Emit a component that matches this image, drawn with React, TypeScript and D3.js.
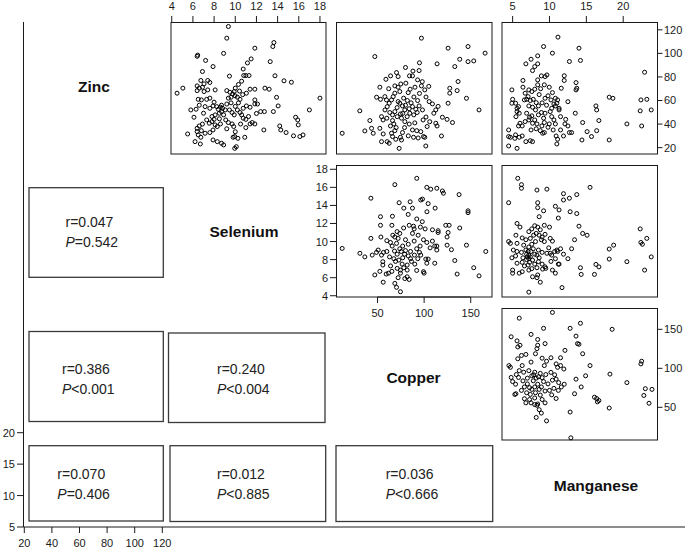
import React from "react";
import * as d3 from "d3";

const W = 685;
const H = 547;

const variables = ["Zinc", "Selenium", "Copper", "Manganese"];
const zincTicks = [20, 40, 60, 80, 100, 120];
const seleniumTicks = [4, 6, 8, 10, 12, 14, 16, 18];
const copperTicks = [50, 100, 150];
const manganeseTicks = [5, 10, 15, 20];
const outerLeftTicks = [5, 10, 15, 20];
const outerBottomTicks = [20, 40, 60, 80, 100, 120];

const correlations = [
  { r: "0.047", p: "=0.542" }, // Zinc-Selenium
  { r: "0.386", p: "<0.001" }, // Zinc-Copper
  { r: "0.240", p: "<0.004" }, // Selenium-Copper
  { r: "0.070", p: "=0.406" }, // Zinc-Manganese
  { r: "0.012", p: "<0.885" }, // Selenium-Manganese
  { r: "0.036", p: "<0.666" }, // Copper-Manganese
];

// [Selenium, Zinc]
const zincSelenium: [number, number][] = [
  [9.35,122.8],[9.2,112.9],[8.9,100],[6.4,97.5],[6.45,98.5],[7.2,94],[7.9,88.8],[6.9,84.6],[6.75,77],[7.4,77],[7.6,75.3],[6.4,72.4],[6.6,70.5],[6.9,71.3],[7.05,74.1],[6.4,68.4],[7.05,67.6],[7.4,69],[8.1,69],[4.5,66.2],[5.05,70.5],[9.2,68.4],[9.5,67],[9.75,65.6],[9.98,64],[9.9,67.6],[9.35,62],[9.6,62.8],[10.2,62.8],[10.45,61],[6.5,61],[6.8,60.5],[7.3,61],[7.6,62],[6.3,52.6],[6.6,56],[7.15,54.8],[7.6,53.4],[7.9,55.4],[8.25,54.8],[8.6,54.3],[8.8,53.4],[9.05,52],[8.7,50.6],[8.5,49.2],[8.9,47.8],[6.1,45.8],[7.0,49.2],[7.8,46.4],[8.1,47.8],[9.45,52],[9.7,49.8],[9.9,47.8],[10.2,52],[10.45,49.8],[10.6,47.8],[10.75,45],[11,44],[11.25,46.4],[11.4,40.1],[11.6,41.3],[11.85,40.1],[9.1,43.5],[9.35,41.3],[9.7,40.1],[9.85,37.9],[7.3,43.5],[7.55,40.7],[7.8,42.1],[8.1,39.3],[8.3,37.9],[8.6,40.1],[6.4,36.4],[6.6,38.4],[6.8,34.4],[7.15,32.2],[7.6,32.8],[7.9,35],[5.5,31.6],[6.4,33.6],[6.5,30.8],[6.75,28.8],[6.2,25.1],[6.7,23.1],[7.9,26.5],[8.3,25.1],[8.7,23.7],[8.9,22.3],[9.95,29.4],[10.25,27.9],[10.1,20.8],[9.95,19.4],[9.8,28.8],[10.9,28.8],[10.75,53.4],[11.05,55.4],[11.4,54.3],[11.85,60.5],[11.85,57.1],[11.05,66.2],[11.4,69.6],[11.85,69.6],[10.3,73.6],[10.6,76.4],[10.8,81.2],[11.15,91.9],[11.5,95.3],[11.85,104.4],[10.75,86.7],[11.0,81.2],[11.3,81.2],[9.45,80.7],[13.3,93],[13.55,105.8],[13.65,109.2],[12.8,70.5],[13.2,69.6],[13.75,81],[14.6,76.7],[15.3,75.5],[13.9,62.7],[14.05,55.4],[12.75,50.6],[13.6,50.6],[12.4,50.6],[15.7,45.8],[15.9,43.5],[15.95,39.3],[17.0,52],[18.0,62],[14.2,38.4],[14.3,35],[14.8,32.8],[15.5,30],[16.1,29.4],[16.4,30.8],[12.7,35],
  [8.4,52.5],[8.7,56],[9.2,57],[9.6,58],[10.0,55],[10.3,58],[8.0,44],[8.5,44.5],[9.2,36],[10.0,33.5],[10.5,40],[11.0,37],[12.1,57],[12.0,49],[6.9,40],[5.8,52],[10.4,68],[10.7,65],[10.0,70.5],[8.0,58.6],
];

// [Copper, Zinc]
const zincCopper: [number, number][] = [
  [12.1,32.2],[31,51.2],[36.4,34.2],[41.8,43],[43.6,36.4],[45.4,32.2],[47.1,97.3],[52.5,36.4],[54.3,46.3],[56,43.5],[52.5,71.3],[49,62.8],[53.2,61],[57.9,63.3],[59.6,60.5],[60.4,54.8],[62.5,57.7],[65,60.5],[66.8,63.3],[68.6,66.2],[64,80.9],[70.4,83.7],[72.1,80.3],[68.6,72.4],[72.1,71.3],[73.9,67.6],[80.4,74.7],[82.9,66.7],[85,69.6],[87.5,80.9],[84.3,80.9],[90.2,71.3],[93,77.5],[94.6,85.4],[98,76],[100.7,69],[97.1,72.4],[72.1,59.1],[73.9,57.7],[76.8,55.4],[79.3,52],[74.6,48.6],[71.1,46.3],[63.2,49.8],[66.1,47.8],[68.6,50.6],[66.1,43],[67.5,40.1],[63.9,38.4],[75.7,45],[79.3,42.1],[81.8,46.3],[84.6,49.2],[87.5,54.8],[91.1,52.6],[94.6,55.4],[98.2,52],[88.9,47.8],[92.5,49.8],[98.9,43.5],[105.4,59.1],[108.9,57.1],[112.5,52],[110.4,49.2],[103.2,37.9],[112.5,40.7],[113.9,38.4],[119.6,45.8],[124.6,44],[130.4,41.3],[65,32.2],[68.6,34.4],[66.1,29.4],[69.6,27.1],[62.5,23.7],[60.4,25.1],[56.1,31.6],[54.3,25.1],[76.8,32.8],[74.6,28.8],[75.7,26.5],[73.2,19.4],[87.5,35],[92.1,34.4],[96.4,33.6],[88.6,28.8],[93.6,28.2],[99.3,29.4],[101.8,21.4],[100.7,28.8],[97.1,112.9],[113.9,91.1],[125.7,104.4],[132.9,88.8],[138.2,95],[147.1,105.8],[147.1,93],[153.2,93.6],[165.4,100.2],[136.4,76.1],[127.5,70.4],[127.5,66.2],[135.4,68.4],[145.4,61.9],[125.7,57.7],[158.9,52],[118.6,29.9],
  [78,62],[82,60],[86,58],[80,56],[84,53],[77,49],[71,54],[89,63],[93,60],[95,66],[102,63],[105,72],[90,41],[84,40],[79,37],[70,37],[60,45],[58,52],[83,30],[102,46],[106,42],[115,55],[95,92],[88,85],[80,88],[75,74],[62,70],[59,78],
];

// [Manganese, Zinc]
const zincManganese: [number, number][] = [
  [4.46,35],[4.46,21.4],[4.7,28.8],[4.46,29.4],[4.9,69],[5.0,61],[4.9,57.7],[5.4,57.7],[5.6,19.4],[5.3,27.9],[5.4,30.8],[5.9,28.8],[5.6,53.4],[5.8,54.8],[5.6,50.6],[5.9,49.2],[5.45,46.3],[6.4,77],[6.4,71.3],[6.7,66.2],[6.9,61],[6.6,60.5],[6.0,40.7],[6.3,38.4],[6.7,42.1],[5.8,38.4],[6.3,29.9],[6.8,91.1],[6.8,25.1],[7.4,25.9],[7.7,25.1],[7.5,95],[7.7,85.4],[8.0,88.8],[8.4,91.1],[8.4,97.9],[9.2,105.8],[7.2,69],[7.6,67.6],[8.0,69.6],[8.4,73.3],[8.4,77.5],[8.9,80.9],[7.1,63.3],[7.4,60],[7.8,61],[8.2,58.2],[7.2,55.4],[7.7,54.3],[8.1,52],[8.5,55.4],[6.9,49.2],[7.3,45.8],[7.6,47],[8.0,43.5],[8.3,40.1],[7.7,40.7],[7.2,43.5],[8.5,47.8],[8.9,49.8],[9.2,45],[9.4,49.2],[9.3,41.3],[8.97,38.4],[8.75,34.4],[9.07,32.2],[9.3,32.8],[9.4,61.9],[9.3,73.3],[9.4,80.3],[9.65,81.7],[9.97,71.3],[10.2,60.5],[10.3,53.4],[10.1,50.6],[10.3,46.3],[9.97,40.1],[9.8,37.3],[10.6,43.5],[10.8,40.1],[10.4,100.2],[11.15,113.8],[10.4,66.7],[10.8,61.9],[11.0,57.7],[11.3,52],[11.1,60.5],[10.8,55.4],[11.5,46.3],[11.3,53.4],[10.9,29.9],[11.0,23.1],[11.1,27.1],[11.5,35],[11.6,70.4],[12.0,77],[12.0,81],[12.1,40.1],[12.5,38.4],[12.2,44],[11.9,29.9],[12.7,32.8],[13.0,32.8],[12.7,93.1],[13.5,49.2],[13.6,75.2],[13.6,69],[13.7,70.4],[14.0,104.4],[14.2,94],[14.5,41.3],[15.1,33.6],[14.4,26.5],[15.7,29.4],[16.4,34.4],[16.4,52],[16.3,55.4],[16.7,43],[18.1,62.8],[18.6,61.9],[18.1,26.5],[20.5,40.1],[22.3,51.2],[22.5,38.4],[22.4,60.5],[22.9,84],[23.2,61],[23.8,52],
  [8.6,65],[9.0,58],[9.6,56],[8.2,36],[7.5,35],[10.5,35],[9.8,64],[8.8,70],[10.6,57],[12.5,59],
];

// [Copper, Selenium]
const seleniumCopper: [number, number][] = [
  [12.1,9.24],[31.1,8.7],[36.4,8.3],[44.3,8.5],[47.1,6.3],[52.5,6.7],[56.1,5.5],[42.9,14.8],[42.9,10.35],[53.2,12.75],[53.2,11.8],[53.6,10.5],[50.7,9.06],[54.3,8.5],[48.9,8.8],[55.7,7.4],[55.7,7.77],[56.4,8.8],[60,8.9],[62.9,8.3],[59.3,6.4],[61.8,6.5],[65.4,6.7],[68.6,16.3],[73.2,14.3],[65.4,11.8],[66.4,10.7],[68.6,10.5],[72.1,10.35],[73.9,10.9],[63.9,9.9],[65.7,9.5],[70.4,9.8],[73.9,9.2],[68.2,8.95],[71.1,8.6],[75.4,8.9],[67.5,8.1],[69.3,7.8],[72.9,7.95],[76.4,7.5],[71.1,7.03],[74.6,6.84],[78.2,7.1],[74.6,6.5],[72.1,6.0],[68.6,5.37],[70.4,4.93],[74.6,4.44],[79.3,5.9],[81.8,6.84],[81.8,6.1],[78.2,13.7],[82.9,13],[87.5,13.7],[85,14.4],[92.1,12.5],[88.6,11.7],[89.3,11.4],[92.1,17],[96.4,14.6],[98.2,14.7],[102.9,16],[107.1,15.8],[113.6,15.9],[119.6,15.6],[120.7,15.35],[137.5,15.2],[104.3,14.2],[111.8,13.7],[87.5,10.9],[89.3,10.05],[93.6,10.7],[95.7,9.5],[99.3,10.2],[102.9,9.9],[106.4,9.3],[108.9,10.05],[111.4,9.5],[101.1,11.4],[108.9,11.3],[115,11.0],[115,11.2],[113.6,9.5],[113.6,9.06],[85.4,8.9],[89.6,8.5],[93.2,8.1],[86.4,7.8],[90,7.5],[81.8,7.4],[85.4,8.1],[96.4,8.5],[101.8,8.06],[104.3,8.06],[99.3,6.66],[100,6.5],[111.4,7.6],[102.9,7.6],[123.2,11.8],[126.8,11.8],[125.7,11.0],[124.6,10.5],[124.6,9.6],[138.2,11.5],[129.3,9.1],[132.9,7.9],[135.4,6.4],[145.4,9.6],[147.1,13.4],[147.1,13.2],[153.2,7.1],[158.9,6.2],[166.1,8.9],
  [77,9.5],[80,10.2],[83,9.7],[79,8.6],[83,8.4],[77,8.2],[92,9.2],[95,8.8],[64,7.3],[60,10.1],[66,12.8],[78,11.5],[84,11.8],[96,11.6],[98,12.2],[103,13.3],[84,5.8],[92,6.8],[71,11.1],[80,9.0],
];

// [Manganese, Selenium]
const seleniumManganese: [number, number][] = [
  [5.7,17],[6.2,16.3],[6.2,15.9],[8.3,15.7],[9.65,15.8],[4.46,14.3],[8.4,14.3],[8.4,13.75],[9.2,13.4],[8.6,12.75],[10.8,13.9],[11.3,13.5],[11.2,12.6],[11.9,14.6],[11.9,15.3],[12.7,14.8],[13.7,15.2],[12.8,13.3],[13.7,13.1],[15.5,16],[5.6,12],[6.0,11.6],[7.2,11.1],[7.6,11.4],[8.0,11.75],[8.4,11.6],[8.75,11.3],[9.3,11.8],[5.45,10.7],[6.3,10.4],[6.8,10.2],[7.4,10.35],[7.85,10.7],[8.2,10.9],[8.6,10.7],[9.0,10.5],[9.4,10.8],[4.46,10],[4.7,9.8],[5.6,9.8],[6.5,9.6],[7.2,9.4],[7.6,9.7],[8.1,10],[8.9,10.2],[9.3,10],[10.1,10.35],[10.4,10.05],[5.1,9.06],[5.6,8.9],[6.2,8.8],[6.8,9.06],[7.2,8.5],[7.5,8.9],[8.0,8.6],[8.5,9.06],[9.0,8.8],[4.9,8.2],[5.4,8.4],[6.9,8.6],[7.2,8.1],[7.4,8.3],[7.7,7.95],[8.3,8.5],[9.65,8.7],[10.1,8.7],[10.7,8.9],[11.0,9.06],[11.1,8.9],[10.3,8.5],[5.6,7.6],[6.3,7.7],[7.1,7.4],[8.0,7.5],[8.5,7.77],[9.0,7.5],[9.4,7.2],[10.2,7.8],[10.8,8.1],[11.2,7.5],[11.9,8.6],[12.5,8.1],[13.0,9.2],[13.4,10.2],[14.0,11.7],[14.5,10.9],[15.1,10.7],[5.0,6.84],[5.0,6.5],[5.9,6.5],[6.3,6.66],[7.2,6.84],[7.6,7.0],[8.3,7.1],[9.07,6.95],[9.5,7.03],[10.4,6.84],[10.8,6.5],[11.3,7.5],[7.7,6.1],[8.3,6.0],[8.4,6.3],[8.75,5.5],[7.2,4.4],[11.7,4.9],[14.2,7.1],[14.3,6.36],[16.1,6.36],[16.3,7.47],[16.7,7.2],[18.1,8.06],[18.1,9.17],[18.7,9.6],[20.5,7.77],[22.3,11.4],[22.4,9.9],[22.6,9.7],[23.2,10.35],[23.8,8.3],[22.9,6.84],
  [6.9,8.0],[7.0,8.3],[7.3,7.7],[7.1,8.9],[7.8,9.2],[8.6,8.2],[9.9,9.3],[10.0,11.6],[11.5,9.2],[6.6,7.3],[6.4,8.2],
];

// [Manganese, Copper]
const copperManganese: [number, number][] = [
  [5.9,164.3],[10.4,171.7],[4.8,140.4],[5.6,135.2],[6.0,129.6],[5.7,127.4],[7.5,143.5],[8.4,137],[8.4,129.6],[9.2,151.3],[9.4,131.7],[8.3,125.2],[8.1,118.7],[4.5,103.5],[4.7,101.3],[4.8,88.3],[5.0,83],[5.4,79.6],[5.45,67.4],[5.3,66.5],[5.7,112.2],[6.2,116.5],[6.8,117.8],[6.3,103.5],[5.9,97],[5.8,88.3],[6.4,83.9],[7.0,87.4],[6.6,76.1],[6.2,71.7],[7.2,97],[7.6,90.4],[7.85,91.7],[8.2,87.4],[8.5,89.1],[8.75,93.5],[8.4,79.6],[8.0,76.1],[7.6,73],[7.3,75.2],[8.6,73],[8.9,76.1],[9.2,83],[6.9,68.7],[7.4,66.5],[8.1,68.7],[8.75,65.7],[9.4,70.9],[10.0,71.7],[10.6,74.3],[11.2,71.7],[11.6,76.1],[12.0,79.6],[11.25,81.7],[10.9,86.1],[10.4,84.8],[6.8,55.7],[7.5,55.7],[8.0,53.5],[8.3,52.6],[8.6,47],[8.9,42.6],[8.4,54.3],[9.4,55.7],[8.2,37],[9.6,32.6],[10.9,61.3],[12.8,43.9],[12.9,10.9],[9.3,103.5],[9.6,109.1],[10.2,113.5],[10.9,105.7],[11.5,113.5],[11.95,99.1],[12.1,123],[11.5,103.5],[11.1,101.3],[10.2,94.8],[10.7,91.7],[12.8,151.3],[13.6,141.3],[13.8,131.7],[14.0,130.9],[14.2,157.8],[14.5,118.7],[14.9,90.4],[13.6,86.1],[13.4,67.4],[14.3,76.1],[15.5,103.5],[16.1,63],[16.4,61.3],[16.7,58.7],[16.5,57],[18.2,92.6],[18.5,150],[18.1,49.1],[20.5,81.7],[22.4,105.7],[22.5,109.1],[23.0,73.9],[22.8,65.2],[23.5,55.2],[23.9,73],
  [7.0,80],[7.8,84],[8.0,95],[9.0,88],[9.8,80],[9.5,92],[7.3,60],[8.0,62],[9.0,60],[10.3,66],[6.5,95],[5.5,92],[7.5,108],[9.0,113],[6.6,61],
];

const FONT = "'Liberation Sans', Arial, Helvetica, sans-serif";
const INK = "#1a1a1a";

// layout
const colX: Record<number, [number, number]> = { 2: [171, 326], 3: [336.5, 492], 4: [502, 657.5] };
const rowY: Record<number, [number, number]> = { 1: [22.5, 154], 2: [165.5, 297], 3: [308.5, 440] };

const seX = d3.scaleLinear().domain([3.93, 18.57]).range(colX[2]);
const cuX = d3.scaleLinear().domain([6, 172.8]).range(colX[3]);
const mnX = d3.scaleLinear().domain([3.56, 24.65]).range(colX[4]);
const znY = d3.scaleLinear().domain([14.6, 126.2]).range([rowY[1][1], rowY[1][0]]);
const seY = d3.scaleLinear().domain([3.86, 18.42]).range([rowY[2][1], rowY[2][0]]);
const cuY = d3.scaleLinear().domain([8.1, 176.7]).range([rowY[3][1], rowY[3][0]]);

const outerY = d3.scaleLinear().domain([5, 20]).range([527, 432.7]);
const outerX = d3.scaleLinear().domain([20, 120]).range([24.3, 162.3]);

type Scale = d3.ScaleLinear<number, number>;

function Panel({ data, x, y }: { data: [number, number][]; x: Scale; y: Scale }) {
  const [x0, x1] = x.range();
  const [y1, y0] = y.range();
  return (
    <g>
      <rect x={x0} y={y0} width={x1 - x0} height={y1 - y0} fill="none" stroke={INK} strokeWidth={1} />
      {data.map((d, i) => (
        <circle key={i} cx={x(d[0])} cy={y(d[1])} r={2} fill="none" stroke="#000" strokeWidth={1} />
      ))}
    </g>
  );
}

function TopAxis({ scale, ticks, y }: { scale: Scale; ticks: number[]; y: number }) {
  return (
    <g>
      <line x1={scale(ticks[0])} x2={scale(ticks[ticks.length - 1])} y1={y} y2={y} stroke={INK} />
      {ticks.map((t) => (
        <g key={t}>
          <line x1={scale(t)} x2={scale(t)} y1={y} y2={y - 6.5} stroke={INK} />
          <text x={scale(t)} y={y - 12.5} textAnchor="middle" fontSize={11} fontFamily={FONT} fill={INK}>{t}</text>
        </g>
      ))}
    </g>
  );
}

function BottomAxis({ scale, ticks, y, line = true, extend }: { scale: Scale; ticks: number[]; y: number; line?: boolean; extend?: [number, number] }) {
  return (
    <g>
      {line && (
        <line
          x1={extend ? extend[0] : scale(ticks[0])}
          x2={extend ? extend[1] : scale(ticks[ticks.length - 1])}
          y1={y} y2={y} stroke={INK} />
      )}
      {ticks.map((t) => (
        <g key={t}>
          <line x1={scale(t)} x2={scale(t)} y1={y} y2={y + 6} stroke={INK} />
          <text x={scale(t)} y={y + 19.5} textAnchor="middle" fontSize={11} fontFamily={FONT} fill={INK}>{t}</text>
        </g>
      ))}
    </g>
  );
}

function RightAxis({ scale, ticks, x }: { scale: Scale; ticks: number[]; x: number }) {
  return (
    <g>
      <line x1={x} x2={x} y1={scale(ticks[0])} y2={scale(ticks[ticks.length - 1])} stroke={INK} />
      {ticks.map((t) => (
        <g key={t}>
          <line x1={x} x2={x + 5} y1={scale(t)} y2={scale(t)} stroke={INK} />
          <text x={x + 6.5} y={scale(t)} dy="0.36em" textAnchor="start" fontSize={11} fontFamily={FONT} fill={INK}>{t}</text>
        </g>
      ))}
    </g>
  );
}

function LeftAxis({ scale, ticks, x, extend }: { scale: Scale; ticks: number[]; x: number; extend?: [number, number] }) {
  return (
    <g>
      <line x1={x} x2={x}
        y1={extend ? extend[0] : scale(ticks[0])}
        y2={extend ? extend[1] : scale(ticks[ticks.length - 1])} stroke={INK} />
      {ticks.map((t) => (
        <g key={t}>
          <line x1={x} x2={x - 6.5} y1={scale(t)} y2={scale(t)} stroke={INK} />
          <text x={x - 8.5} y={scale(t)} dy="0.36em" textAnchor="end" fontSize={11} fontFamily={FONT} fill={INK}>{t}</text>
        </g>
      ))}
    </g>
  );
}

function CorrBox({ box, tx, ty, r, p }: { box: [number, number, number, number]; tx: number; ty: number; r: string; p: string }) {
  const [x0, y0, x1, y1] = box;
  return (
    <g>
      <rect x={x0} y={y0} width={x1 - x0} height={y1 - y0} fill="none" stroke="#3a3a3a" strokeWidth={1.3} />
      <text x={tx} y={ty} fontSize={14} fontFamily={FONT} fill="#222">r={r}</text>
      <text x={tx} y={ty + 20} fontSize={14} fontFamily={FONT} fill="#222">
        <tspan fontStyle="italic">P</tspan>{p}
      </text>
    </g>
  );
}

export default function App() {
  const labelStyle = { fontSize: 15.5, fontWeight: 700, fontFamily: FONT, fill: "#111" } as const;
  return (
    <svg width={W} height={H} viewBox={`0 0 ${W} ${H}`}
      style={{ position: "absolute", left: 0, top: 0, background: "#fff" }}>
      <rect x={0} y={0} width={W} height={H} fill="#fff" />

      {/* outer frame axes */}
      <LeftAxis scale={outerY} ticks={outerLeftTicks} x={23.5} extend={[527, 22]} />
      <BottomAxis scale={outerX} ticks={outerBottomTicks} y={527} extend={[23.5, 685]} />

      {/* diagonal labels */}
      <text x={94} y={92} textAnchor="middle" {...labelStyle}>{variables[0]}</text>
      <text x={244} y={237} textAnchor="middle" {...labelStyle}>{variables[1]}</text>
      <text x={413.5} y={383} textAnchor="middle" {...labelStyle}>{variables[2]}</text>
      <text x={596} y={491} textAnchor="middle" {...labelStyle}>{variables[3]}</text>

      {/* upper panels */}
      <Panel data={zincSelenium} x={seX} y={znY} />
      <Panel data={zincCopper} x={cuX} y={znY} />
      <Panel data={zincManganese} x={mnX} y={znY} />
      <Panel data={seleniumCopper} x={cuX} y={seY} />
      <Panel data={seleniumManganese} x={mnX} y={seY} />
      <Panel data={copperManganese} x={mnX} y={cuY} />

      {/* panel axes */}
      <TopAxis scale={seX} ticks={seleniumTicks} y={rowY[1][0]} />
      <TopAxis scale={mnX} ticks={manganeseTicks} y={rowY[1][0]} />
      <RightAxis scale={znY} ticks={zincTicks} x={colX[4][1]} />
      <LeftAxis scale={seY} ticks={seleniumTicks} x={colX[3][0]} />
      <BottomAxis scale={cuX} ticks={copperTicks} y={rowY[2][1]} />
      <RightAxis scale={cuY} ticks={copperTicks} x={colX[4][1]} />

      {/* correlation boxes */}
      <CorrBox box={[29, 187.7, 163.3, 277.3]} tx={65.5} ty={226.5} r={correlations[0].r} p={correlations[0].p} />
      <CorrBox box={[29, 331.5, 163.3, 421.5]} tx={62} ty={373.5} r={correlations[1].r} p={correlations[1].p} />
      <CorrBox box={[168.5, 333, 325, 422.5]} tx={217} ty={373.5} r={correlations[2].r} p={correlations[2].p} />
      <CorrBox box={[29, 445.7, 163.3, 521]} tx={57.3} ty={479.3} r={correlations[3].r} p={correlations[3].p} />
      <CorrBox box={[170, 445.7, 325.7, 521.5]} tx={217} ty={479.3} r={correlations[4].r} p={correlations[4].p} />
      <CorrBox box={[336, 445.7, 492.7, 521.5]} tx={385.7} ty={479.3} r={correlations[5].r} p={correlations[5].p} />
    </svg>
  );
}
